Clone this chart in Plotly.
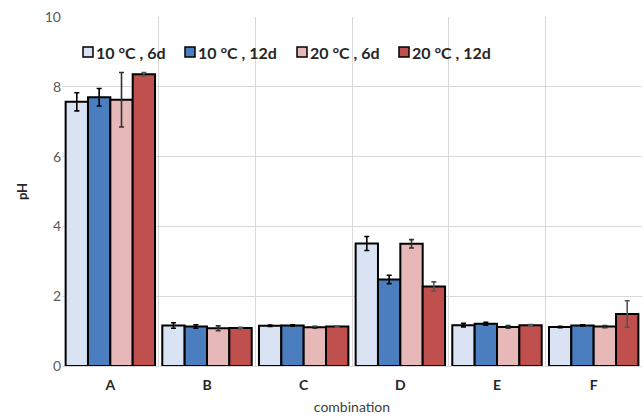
import plotly.graph_objects as go

categories = ["A", "B", "C", "D", "E", "F"]
series_names = ["10 °C , 6d", "10 °C , 12d", "20 °C , 6d", "20 °C , 12d"]

v_10_6 = [7.57, 1.16, 1.15, 3.51, 1.17, 1.12]
v_10_12 = [7.70, 1.13, 1.16, 2.48, 1.21, 1.16]
v_20_6 = [7.63, 1.08, 1.11, 3.50, 1.12, 1.13]
v_20_12 = [8.36, 1.09, 1.13, 2.28, 1.17, 1.49]

e_10_6 = [0.26, 0.08, 0.02, 0.20, 0.05, 0.02]
e_10_12 = [0.25, 0.05, 0.02, 0.12, 0.04, 0.02]
e_20_6 = [0.78, 0.07, 0.03, 0.12, 0.04, 0.03]
e_20_12 = [0.05, 0.02, 0.02, 0.13, 0.02, 0.38]

values = [v_10_6, v_10_12, v_20_6, v_20_12]
errors = [e_10_6, e_10_12, e_20_6, e_20_12]
colors = ["#DAE3F3", "#4A7EBF", "#E6B9B8", "#C0504D"]
err_colors = ["#000000", "#000000", "#333333", "#555555"]

# legend layout (pixel positions of the legend boxes)
legend_box_px = [83, 185, 297, 399]

W, H = 644, 417
ML, MR, MT, MB = 62, 2, 17, 51
PW, PH = W - ML - MR, H - MT - MB

def px_x(p):
    return (p - ML) / PW

def px_y(p):
    return (H - MB - p) / PH

fig = go.Figure()
for name, v, e, c, ec in zip(series_names, values, errors, colors, err_colors):
    fig.add_trace(go.Bar(
        x=categories, y=v, name=name, showlegend=False,
        marker=dict(color=c, line=dict(color="#000000", width=2)),
        error_y=dict(type="data", array=e, visible=True, color=ec, thickness=1.6, width=2.5),
    ))

shapes = []
annotations = []
for name, c, bx in zip(series_names, colors, legend_box_px):
    shapes.append(dict(
        type="rect", xref="paper", yref="paper",
        x0=px_x(bx), x1=px_x(bx + 10), y0=px_y(57), y1=px_y(47),
        fillcolor=c, line=dict(color="#000000", width=1.5),
    ))
    annotations.append(dict(
        xref="paper", yref="paper", x=px_x(bx + 11), y=px_y(52),
        xanchor="left", yanchor="middle", showarrow=False, text=name,
        font=dict(size=16, color="#262626", family="Lato, sans-serif", weight="bold"),
    ))

fig.update_layout(
    width=W, height=H,
    margin=dict(l=ML, r=MR, t=MT, b=MB),
    barmode="group", bargap=0.075, bargroupgap=0,
    plot_bgcolor="white", paper_bgcolor="white",
    font=dict(family="Lato, Open Sans, sans-serif", color="#595959"),
    showlegend=False,
    shapes=shapes, annotations=annotations,
    xaxis=dict(
        tickson="boundaries", showgrid=True, gridcolor="#D9D9D9", gridwidth=1,
        showline=True, linecolor="#D9D9D9", linewidth=1, ticks="",
        ticklabelstandoff=6,
        tickfont=dict(size=14, color="#262626", weight="bold"),
        title=dict(text="combination", font=dict(size=14, color="#404040"), standoff=10),
    ),
    yaxis=dict(
        range=[0, 10], dtick=2, showgrid=True, gridcolor="#D9D9D9", gridwidth=1,
        zeroline=False, ticks="", tickfont=dict(size=14, color="#595959"),
        title=dict(text="pH", font=dict(size=13, color="#262626", weight="bold"), standoff=14),
    ),
)

fig.write_html("out.html")
